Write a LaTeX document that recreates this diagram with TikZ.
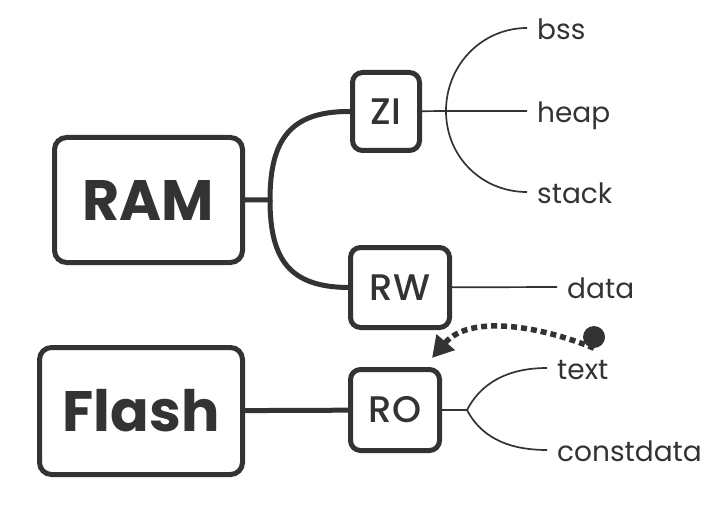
\documentclass[tikz,border=0pt]{standalone}
\usepackage{fontspec}
\setmainfont{Poppins}
\newfontfamily\medfont{Poppins}[UprightFont=* Medium]
\usetikzlibrary{arrows.meta}
\definecolor{ink}{HTML}{333333}

\begin{document}
\begin{tikzpicture}[x=1pt,y=-1pt,every node/.style={text=ink},
  mem/.style={draw=ink,line width=5pt,rounded corners=12pt,inner sep=0pt,font=\fontsize{57}{60}\selectfont\bfseries},
  seg/.style={draw=ink,line width=5pt,rounded corners=10pt,inner sep=0pt,font=\fontsize{37}{40}\selectfont\medfont},
  leaf/.style={anchor=west,inner xsep=10pt,inner ysep=0pt,text height=23pt,text depth=0pt,font=\fontsize{28}{30}\selectfont},
  trunk/.style={draw=ink,line width=5pt},
  twig/.style={draw=ink,line width=1.7pt}]
  \useasboundingbox (0,0) rectangle (725,505);
  % memories and sections
  \node[mem,minimum width=188pt,minimum height=125pt] (ram) at (148.5,200) {RAM};
  \node[mem,minimum width=203pt,minimum height=127pt] (flash) at (141,411) {Flash};
  \node[seg,minimum width=67pt,minimum height=78pt] (zi) at (386,111.5) {ZI};
  \node[seg,minimum width=99pt,minimum height=80pt] (rw) at (400,287.5) {RW};
  \node[seg,minimum width=89pt,minimum height=81pt] (ro) at (395,410) {RO};
  % leaves
  \foreach \n/\y in {bss/28,heap/111,stack/192}{\node[leaf] (\n) at (527,\y) {\n};}
  \foreach \n/\y in {text/368,constdata/450}{\node[leaf] (\n) at (547,\y) {\n};}
  \node[leaf] (data) at (557,287) {data};
  \coordinate (ramj) at (270,200);
  \coordinate (zij) at (446,111);
  \coordinate (roj) at (467,410);
  % connectors
  \draw[trunk] (ram.east) -- (ramj) .. controls (270,140) and (290,111) .. (zi.west);
  \draw[trunk] (ramj) .. controls (270,260) and (290,287) .. (rw.west);
  \draw[trunk] (flash) -- (ro);
  \draw[twig] (zi) -- (zij) -- (heap.west);
  \draw[twig] (zij) .. controls (446,65) and (482,28) .. (bss.west);
  \draw[twig] (zij) .. controls (446,157) and (482,192) .. (stack.west);
  \draw[twig] (rw) -- (data.west);
  \draw[twig] (ro) -- (roj) .. controls (480,385) and (505,368) .. (text.west);
  \draw[twig] (roj) .. controls (480,435) and (505,450) .. (constdata.west);
  % moved section
  \node[circle,fill=ink,inner sep=0pt,minimum size=22pt] (pin) at (594,337) {};
  \coordinate (rotip) at (432,358);
  \draw[draw=ink,line width=5.5pt,dash pattern=on 6pt off 4pt,-{Triangle[length=21pt,width=23pt]}]
    (pin.south) .. controls (540,326) and (470,314) .. (rotip);
\end{tikzpicture}
\end{document}
